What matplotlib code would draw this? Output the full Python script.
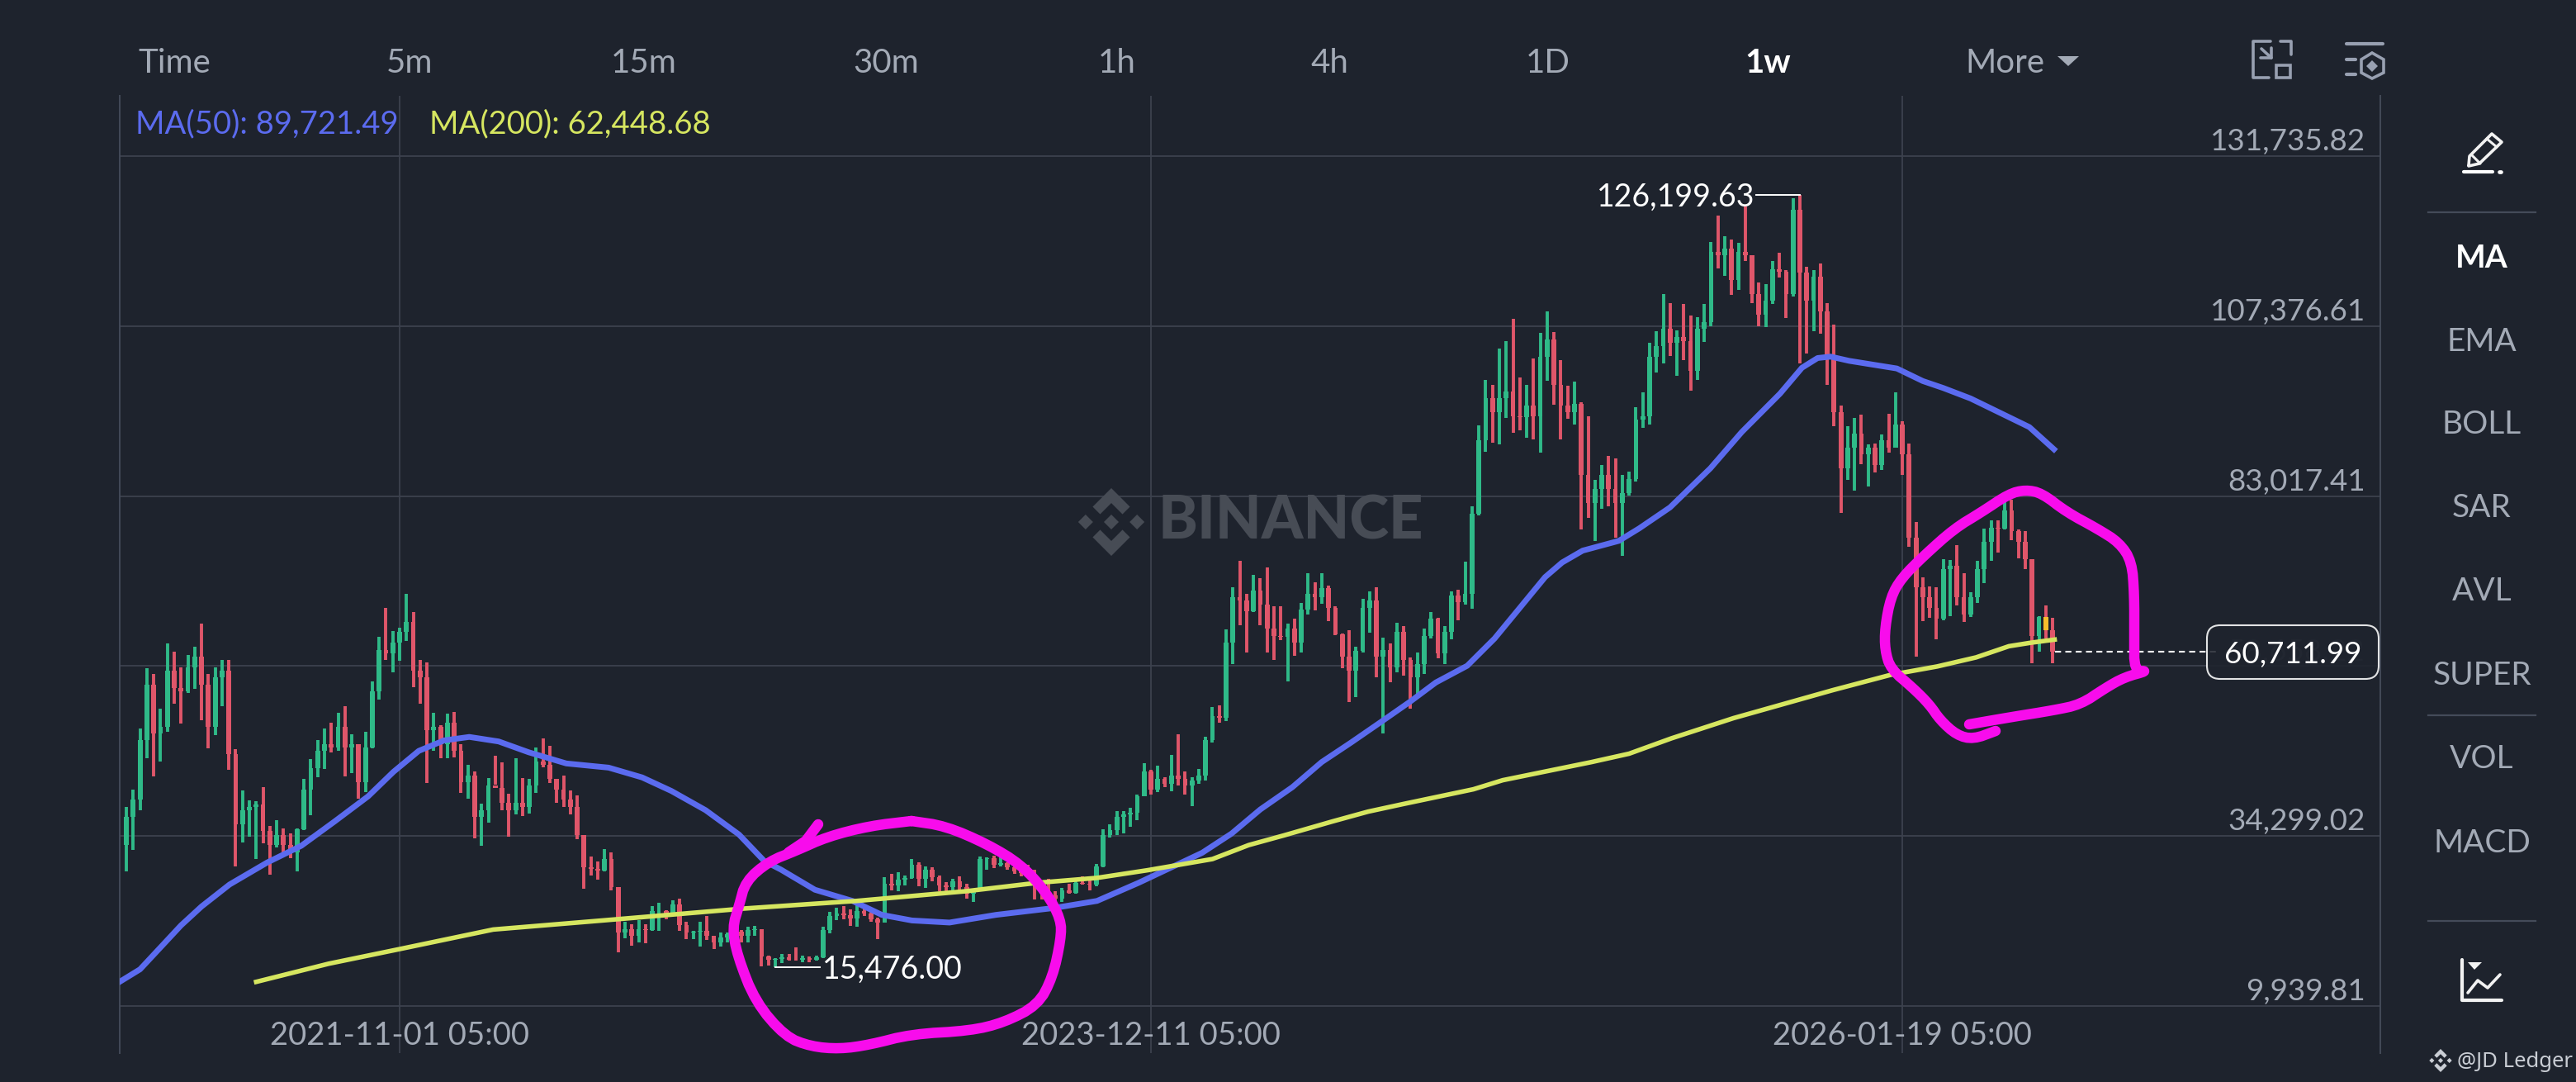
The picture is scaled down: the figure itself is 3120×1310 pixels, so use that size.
import numpy as np
import matplotlib
matplotlib.use("Agg")
import matplotlib.pyplot as plt
from matplotlib.patches import Polygon, FancyBboxPatch, Rectangle
from matplotlib.transforms import blended_transform_factory

plt.rcParams['font.family'] = ['Lato', 'DejaVu Sans']

# colours
BG = '#1E232D'
GRID = '#3C424E'
TXT = '#A3AAB6'
GREEN = '#2FBA88'
RED = '#E0566A'
BLUE = '#5B6BEF'
YELLOW = '#D6E660'
MAGENTA = '#F80CEC'
ORANGE = '#F9BE2C'

# weeks counted from 2021-11-01, prices in thousands
first_week = -40
first_open = 33.0
highs = [
    38.5, 41, 49.7, 58.4, 57.5, 52.6, 61.85, 60.7, 58.5, 60.2,
    61.45, 64.8, 57.5, 58.5, 59.5, 59.5, 46.7, 40.8, 39.45, 39.3,
    41.35, 35.7, 36.6, 35.35, 34.65, 35.35, 42.5, 45.3, 48.1, 49.7,
    50.5, 51.9, 52.9, 48.85, 47.35, 49.2, 56.5, 62.9, 67, 63.7,
    64.2, 68.95, 66.4, 59.5, 59.2, 51.9, 50.2, 51.8, 52.1, 47.5,
    44.5, 43.5, 38.9, 42.65, 45.85, 44.8, 40.35, 45.4, 42.6, 42.45,
    47, 48.25, 47.2, 42.45, 43, 40.8, 40.1, 34.25, 31.35, 30.7,
    32.4, 31.9, 27, 22, 21.6, 22.2, 21.7, 24.3, 24.7, 23.7,
    25.1, 25.3, 22, 20.7, 22, 22.8, 20, 20.5, 20.5, 21,
    20.8, 21.25, 21.45, 21, 17.2, 16.8, 17.4, 17.4, 18.4, 17.2,
    17, 17.2, 21.25, 23.4, 24, 24.3, 23.8, 24.8, 24.2, 23.7,
    22.55, 28.35, 28.85, 29.1, 28.7, 31, 30.5, 30, 29.85, 28.6,
    27.75, 28.2, 28.5, 27.5, 26.8, 31.4, 31.3, 31.5, 31.3, 30.5,
    30.1, 29.7, 30.2, 29.5, 27.2, 28.15, 26.4, 26.85, 27.5, 27.9,
    28.55, 28.3, 30.3, 35.25, 35.95, 37.9, 37.9, 38.4, 40.2, 44.7,
    43.8, 44.4, 42.75, 45.9, 48.9, 43.6, 42.75, 43.9, 48.55, 52.8,
    53, 63.95, 70, 73.75, 68.95, 71.7, 71.3, 72.8, 67.2, 67.25,
    64.7, 65.5, 67.7, 72, 70.7, 72, 70.2, 67.25, 63.35, 63.8,
    61.4, 68.3, 69.4, 70, 62.7, 61.85, 64.9, 64.4, 59.9, 60.6,
    64.05, 66.4, 65.6, 64.4, 69.3, 69.55, 73.6, 81.5, 93.2, 99.6,
    98.9, 104.1, 105.2, 108.4, 100, 99, 102.7, 106.4, 109.5, 106.5,
    102.5, 98.8, 99.45, 96.45, 94.4, 85.3, 87.5, 88.8, 88.45, 86.1,
    86.5, 95.75, 97.9, 105, 106.7, 112, 110.7, 106.8, 110.5, 108.95,
    108.6, 110.5, 119.4, 123.2, 120.2, 119.8, 119.3, 124.5, 117.5, 113.6,
    113.4, 116.65, 117.9, 115.35, 125.7, 126.2, 115.9, 115.45, 116.35, 110.7,
    107.6, 96, 93.05, 94.2, 94.65, 90.4, 90.6, 91.8, 94.75, 97.9,
    93.7, 90.5, 79.3, 71.4, 70.1, 70, 74, 73.9, 76, 72,
    69.2, 73.75, 78.3, 79.5, 79.5, 82.75, 82.55, 78.2, 78, 74,
    65.8, 67.3, 65.6,
]
lows = [
    29.2, 32.3, 38, 45.5, 42.9, 45, 49.2, 53.25, 50.4, 54.75,
    55.4, 50.9, 46.9, 48.75, 52.9, 43.8, 29.9, 33.35, 34.2, 31,
    33.3, 28.75, 32.7, 31.9, 31.1, 29.2, 35.2, 37.3, 42.7, 43.9,
    46.3, 46.5, 42.85, 43.3, 39.6, 40.6, 46.85, 53.85, 59.5, 57.8,
    59.4, 62.25, 55.6, 53.25, 41.95, 46.5, 45.4, 45.5, 45.6, 40.5,
    39.65, 34, 32.9, 36.2, 41.65, 38, 34.25, 37.4, 37.2, 37.5,
    40.45, 44.1, 41.85, 39.1, 38.45, 37.4, 33.8, 26.7, 28.6, 28,
    29.2, 26.5, 17.6, 19.6, 18.6, 19, 18.9, 20.7, 20.7, 22.4,
    23, 20.7, 19.5, 19.5, 18.5, 19.4, 18.1, 18.5, 19, 19,
    19, 19.1, 20, 15.6, 15.75, 15.476, 16.1, 16.5, 16.5, 16.2,
    16.2, 16.5, 16.8, 20.4, 22.2, 22.4, 21.4, 21.3, 22.8, 22,
    19.5, 21.85, 26.55, 26.45, 27.2, 28.15, 27.05, 26.85, 27.85, 26.45,
    26.45, 26.55, 26.55, 25.3, 24.8, 26.8, 29.5, 29.7, 30, 29.5,
    28.9, 28.55, 28.35, 25.2, 25.2, 25.2, 25, 24.8, 26, 26,
    27.35, 26.5, 27.1, 29.85, 34.05, 34.45, 34.7, 35.65, 36.6, 40,
    40.2, 40.6, 41.25, 40.75, 41.55, 40.2, 38.6, 41.75, 42.2, 47.75,
    50.5, 50.8, 59, 64.5, 60.65, 66.4, 64.5, 60.6, 59.55, 62.4,
    56.5, 60.1, 60.65, 66, 66.6, 67.6, 65.1, 63.1, 58.4, 53.5,
    54.25, 60.6, 63.4, 57.1, 49, 56.35, 57.8, 57.25, 52.6, 54.55,
    57.5, 62.6, 59.8, 59, 62.5, 65.2, 67.5, 66.85, 80.2, 89.4,
    90.7, 90.4, 94.2, 92.1, 92.4, 91.4, 91.1, 89.2, 99.5, 96.1,
    91.1, 94.05, 93.3, 78.2, 79.9, 76.55, 81.2, 81.5, 77, 74.5,
    83.1, 85.1, 92.8, 93.3, 100.7, 102, 103.05, 100.3, 102.5, 98.1,
    99.6, 105.1, 107.4, 115.65, 114.6, 111.9, 112.6, 116.7, 110.65, 107.3,
    107.2, 110.6, 114.35, 108.55, 111.6, 102, 103.5, 106.6, 106.3, 98.9,
    93, 80.6, 85.3, 83.8, 87.55, 84.4, 86.4, 86.75, 89.3, 90,
    86.1, 75.7, 59.96, 65.1, 65.6, 62.5, 65.2, 65.8, 67.4, 65,
    65.7, 67.7, 70.6, 73.75, 74.9, 78.2, 76.7, 74.15, 72.5, 59.1,
    60.7, 62.65, 59.1,
]
closes = [
    37, 39.5, 48, 56, 49, 50, 58, 55.5, 55, 58.5,
    60, 56, 50, 57, 58, 46, 36, 38, 38.5, 38.8,
    35, 33, 34.5, 33, 32, 35.3, 41, 44, 46.5, 47.5,
    47, 50, 47, 47.5, 42, 47, 55, 61, 60.5, 62,
    63.5, 65, 58, 57, 49.5, 50, 47.5, 50.5, 46.5, 42,
    43, 37, 38, 41.5, 41.2, 39, 38, 39, 38.5, 41.5,
    45, 44.5, 42.5, 41, 39.5, 38.5, 34.5, 29.8, 29.6, 29.3,
    31, 27, 20.5, 21, 20, 21, 20.8, 23.5, 23.6, 23,
    24.5, 21.5, 20.5, 20.6, 20.7, 20, 19, 19.8, 20.2, 20.6,
    20, 20.8, 21, 17, 16.6, 16.7, 16.9, 16.6, 16.55, 16.8,
    16.6, 16.9, 20.8, 22.8, 23.2, 23, 22.5, 23.6, 23.2, 22.4,
    21.9, 27.5, 27.2, 28, 28.3, 30.2, 28.2, 29.5, 28.4, 27.2,
    27, 27.8, 27, 26, 26.7, 31, 31.1, 30.2, 30.45, 29.8,
    29.2, 29, 28.8, 27, 26, 25.8, 25.3, 26.5, 26.2, 27.6,
    27.5, 27.3, 30, 34.5, 35.2, 37, 37.4, 37.6, 40, 43.5,
    41, 42.5, 41.8, 43, 42.5, 41.5, 42.2, 43, 48, 51.5,
    51.2, 62, 68.5, 68, 66.5, 69.5, 67.5, 64, 63, 62.8,
    64, 62, 66.8, 69, 68.5, 69.8, 67, 63.2, 60, 58,
    60.8, 67, 68, 60, 61, 58.5, 63.5, 59.5, 57, 59,
    63, 65.5, 60.5, 63.5, 68.8, 67.8, 69, 80.5, 91, 97,
    95, 97, 98, 94.5, 94.3, 96, 94.5, 103, 105.5, 99,
    96, 95, 96.2, 86, 82, 84, 86, 84, 82, 83.5,
    85.5, 94, 94.5, 103, 104.5, 107, 105, 105.8, 105.2, 101,
    107, 108, 118, 117.5, 118.5, 114, 118, 117.5, 112, 109,
    111, 115.5, 115.2, 112, 124, 115, 111, 114.5, 109.5, 103,
    95, 87, 90, 92, 89, 90, 87.5, 91, 90, 93.3,
    89, 77, 70, 68.5, 67, 65.5, 72.5, 73, 68.5, 66,
    68.5, 72.5, 76.5, 78.5, 78.3, 81, 78, 76.5, 74, 63,
    65.7, 63.8, 60.71199,
]
highlight_week = 241

ma50_weeks = [-41, -38, -32, -29, -24.9, -19.4, -14.4, -9.5, -4.6, -0.9, 2.8, 6.5, 10.2, 14.5, 18.9, 24.4,
              30.6, 35.5, 39.8, 44.8, 49.7, 53.4, 55.8, 60.8, 66.3, 70.6, 75, 80.5, 87.3, 95.9, 102.1, 108.2,
              113.4, 117.5, 121.8, 126, 130.7, 135, 139.3, 143.6, 148, 151.7, 156.3, 160.3, 164, 167.7, 170.2,
              173.2, 178.5, 181.5, 186, 191.9, 196.5, 202.1, 205.3, 207.6, 209.5, 212.2, 219.2, 223, 226, 230,
              238.6, 242.2]
ma50_values = [13.4, 15.2, 21.5, 24.2, 27.35, 30.5, 32.9, 36.4, 40, 43.5, 46.5, 48, 48.5, 47.85, 46.3, 44.7,
               44.1, 42.7, 40.75, 38, 34.5, 30.7, 29.5, 26.6, 25, 23, 22.2, 21.9, 23, 24, 25, 27.6,
               30, 31.9, 34.65, 38.1, 41.3, 44.9, 47.7, 50.6, 53.6, 56.3, 58.7, 62.6, 67, 71.4, 73.5,
               75.2, 76.6, 78.4, 81.4, 87, 92.2, 97.7, 101.4, 102.8, 103, 102.4, 101.3, 99.5, 98.5, 97,
               92.9, 89.72]
ma200_weeks = [-21, -10.4, 0, 13.7, 29.7, 50.3, 60.8, 66.9, 83, 93.4, 102.1, 109.5, 119, 124.3, 129.5, 136.6,
               141.8, 147, 157.2, 161.5, 174.5, 180, 186.2, 195.3, 209.8, 218.3, 225.1, 230.8, 235.6, 238.8, 242.3]
ma200_values = [13.4, 16, 18.1, 20.9, 22.2, 23.9, 24.6, 25, 26.4, 27.6, 28.3, 29.4, 31, 33, 34.4, 36.4,
                37.8, 38.9, 41, 42.3, 44.9, 46.1, 48.3, 51.2, 55.2, 57.4, 58.6, 59.9, 61.5, 62, 62.45]

price_levels = [131735.82, 107376.61, 83017.41, 58658.22, 34299.02, 9939.81]
price_labels = ['131,735.82', '107,376.61', '83,017.41', '58,658.22', '34,299.02', '9,939.81']
date_weeks = [0, 110, 220]
date_labels = ['2021-11-01 05:00', '2023-12-11 05:00', '2026-01-19 05:00']
last_price = 60711.99
top_price = 126199.63
top_week = 205
bottom_price = 15476.00
bottom_week = 55

tabs = ['Time', '5m', '15m', '30m', '1h', '4h', '1D', '1w', 'More']
tab_x = [211, 496, 780, 1073, 1353, 1610, 1875, 2141, 2428]
side_items = ['MA', 'EMA', 'BOLL', 'SAR', 'AVL', 'SUPER', 'VOL', 'MACD']
side_y = [312, 414, 514, 615, 716, 818, 919, 1021]

# hand drawn circles, in picture pixels
left_loop = [(1104, 994), (1053, 1000), (1002, 1013), (964, 1030), (931, 1043), (903, 1067), (895, 1097),
             (887, 1123), (893, 1157), (915, 1213), (951, 1255), (982, 1267), (1017, 1270), (1053, 1265),
             (1104, 1252), (1175, 1248), (1216, 1238), (1257, 1217), (1275, 1183), (1285, 1137), (1285, 1113),
             (1267, 1080), (1237, 1047), (1196, 1022), (1145, 1000), (1104, 994)]
left_tip = [(991, 998), (976, 1018), (955, 1032)]
right_loop = [(2417, 885), (2390, 895), (2370, 890), (2350, 872), (2337, 853), (2317, 833), (2290, 810),
              (2283, 787), (2283, 760), (2290, 723), (2303, 700), (2330, 673), (2367, 640), (2400, 620),
              (2433, 598), (2453, 593), (2473, 597), (2503, 620), (2540, 640), (2567, 657), (2582, 680),
              (2585, 720), (2585, 770), (2585, 813), (2602, 812), (2573, 820), (2550, 833), (2520, 853),
              (2487, 860), (2437, 868), (2385, 877)]

highs = np.array(highs) * 1000
lows = np.array(lows) * 1000
closes = np.array(closes) * 1000
opens = np.r_[first_open * 1000, closes[:-1]]
weeks = np.arange(first_week, first_week + len(closes))

fig = plt.figure(figsize=(31.2, 13.1), dpi=100, facecolor=BG)

# price chart
ax = fig.add_axes([145 / 3120, 1 - 1275 / 1310, (2883 - 145) / 3120, (1275 - 116) / 1310], facecolor=BG)
ax.set_xlim(-40.98, 289.98)
ax.set_ylim(3193, 140376)
ax.set_yticks(price_levels)
ax.set_xticks(date_weeks)
ax.tick_params(length=0, labelleft=False, labelbottom=False)
ax.grid(True, color=GRID, lw=1.3)
ax.set_axisbelow(True)
for side in ['top', 'bottom']:
    ax.spines[side].set_visible(False)
for side in ['left', 'right']:
    ax.spines[side].set_color('#434A58')
    ax.spines[side].set_linewidth(1.4)

colors = [GREEN if c >= o else RED for o, c in zip(opens, closes)]
body_colors = [ORANGE if w == highlight_week else col for w, col in zip(weeks, colors)]
ax.vlines(weeks, lows, highs, colors=colors, lw=2.8, zorder=3)
ax.bar(weeks, np.abs(closes - opens), bottom=np.minimum(opens, closes), width=0.7, color=body_colors, zorder=3)

ax.plot(ma50_weeks, np.array(ma50_values) * 1000, color=BLUE, lw=5, zorder=4, solid_joinstyle='round')
ax.plot(ma200_weeks, np.array(ma200_values) * 1000, color=YELLOW, lw=4, zorder=4, solid_joinstyle='round')

# last price line
ax.plot([weeks[-1] + 0.4, 266.5], [last_price, last_price], color='white', lw=1.5, ls=(0, (3.5, 2.5)), zorder=4)

# high and low marks
ax.plot([top_week, top_week - 6.4], [top_price, top_price], color='white', lw=1.4, zorder=5)
ax.text(top_week - 6.6, top_price - 350, f'{top_price:,.2f}', color='white', fontsize=27, ha='right', va='center', zorder=6)
ax.plot([bottom_week, bottom_week + 6.5], [bottom_price, bottom_price], color='white', lw=1.4, zorder=5)
ax.text(bottom_week + 6.9, bottom_price - 350, f'{bottom_price:,.2f}', color='white', fontsize=27, ha='left', va='center', zorder=6)

# axis labels sit inside the plot
right_t = blended_transform_factory(ax.transAxes, ax.transData)
for lev, lab in zip(price_levels, price_labels):
    col = '#3F4652' if lev == 58658.22 else TXT
    ax.text(0.9934, lev + 100, lab, color=col, fontsize=26.6, ha='right', va='bottom', transform=right_t, zorder=2)
bottom_t = blended_transform_factory(ax.transData, ax.transAxes)
for w, lab in zip(date_weeks, date_labels):
    ax.text(w, 0.0185, lab, color=TXT, fontsize=27.5, ha='center', va='center', transform=bottom_t)

# everything else is placed in picture pixels
ov = fig.add_axes([0, 0, 1, 1], facecolor='none')
ov.set_xlim(0, 3120)
ov.set_ylim(1310, 0)
ov.axis('off')


def binance_logo(cx, cy, r, color, alpha=1.0):
    shapes = [
        [(0, -1), (.55, -.45), (.33, -.23), (0, -.56), (-.33, -.23), (-.55, -.45)],
        [(0, 1), (.55, .45), (.33, .23), (0, .56), (-.33, .23), (-.55, .45)],
        [(0, -.22), (.22, 0), (0, .22), (-.22, 0)],
        [(-.76, -.22), (-.54, 0), (-.76, .22), (-.98, 0)],
        [(.76, -.22), (.98, 0), (.76, .22), (.54, 0)],
    ]
    for s in shapes:
        pts = [(cx + x * r, cy + y * r) for x, y in s]
        ov.add_patch(Polygon(pts, closed=True, fc=color, ec='none', alpha=alpha))


def stroke(points, color, lw, **kw):
    xs, ys = zip(*points)
    ov.plot(xs, ys, color=color, lw=lw, solid_capstyle='round', solid_joinstyle='round', **kw)


def rounded(points, passes=2):
    # corner cutting, so the pen strokes do not look like polygons
    pts = np.array(points, dtype=float)
    for _ in range(passes):
        a, b = pts[:-1], pts[1:]
        mid = np.empty((2 * len(a), 2))
        mid[0::2] = 0.75 * a + 0.25 * b
        mid[1::2] = 0.25 * a + 0.75 * b
        pts = np.vstack([pts[0], mid, pts[-1]])
    return pts


# watermark
binance_logo(1346, 632, 41, '#474C55')
ov.text(1403, 632, 'BINANCE', color='#474C55', fontsize=52, fontweight='black', ha='left', va='center')

# top tabs
for t, x in zip(tabs, tab_x):
    active = t == '1w'
    ov.text(x, 76, t, color='white' if active else TXT, fontsize=29, fontweight='bold' if active else 'normal',
            ha='center', va='center')
ov.add_patch(Polygon([(2492, 68), (2518, 68), (2505, 80)], closed=True, fc=TXT, ec='none'))

# legend
ov.text(164, 150, 'MA(50): 89,721.49', color=BLUE, fontsize=27.5, ha='left', va='center')
ov.text(520, 150, 'MA(200): 62,448.68', color=YELLOW, fontsize=27.5, ha='left', va='center')

# current price tag
ov.add_patch(FancyBboxPatch((2683, 767), 188, 45, boxstyle='round,pad=10,rounding_size=16', fc=BG, ec='white',
                            lw=1.5, alpha=0.88, zorder=5))
ov.text(2777, 792, f'{last_price:,.2f}', color='white', fontsize=26.5, ha='center', va='center', zorder=6)

# side menu
for t, y in zip(side_items, side_y):
    active = t == 'MA'
    ov.text(3006, y, t, color='white' if active else TXT, fontsize=28, fontweight='bold' if active else 'normal',
            ha='center', va='center')
for y in [257, 866, 1115]:
    ov.plot([2941, 3071], [y, y], color='#444B59', lw=1.6)

# icons
ICON = '#98A0B1'
stroke([(2750, 50), (2729, 50), (2729, 94), (2748, 94)], ICON, 2.6)
stroke([(2762, 50), (2775, 50), (2775, 66)], ICON, 2.6)
ov.add_patch(Rectangle((2757, 79), 17, 15, fc='none', ec=ICON, lw=2.6))
stroke([(2739, 59), (2751, 70)], ICON, 2.6)
stroke([(2738, 70), (2751, 70), (2751, 58)], ICON, 2.6)
stroke([(2842, 53), (2886, 53)], ICON, 3)
stroke([(2842, 72), (2853, 72)], ICON, 3)
stroke([(2842, 90), (2853, 90)], ICON, 3)
hexagon = [(2873, 64), (2887, 72), (2887, 88), (2873, 95), (2860, 88), (2860, 72)]
ov.add_patch(Polygon(hexagon, closed=True, fc='none', ec=ICON, lw=2.6))
ov.add_patch(Polygon([(2873, 73), (2880, 80), (2873, 87), (2866, 80)], closed=True, fc=ICON, ec='none'))

stroke([(2984, 208), (3019, 208)], 'white', 3)
stroke([(3027, 208), (3029, 208)], 'white', 3.4)
stroke([(2990, 200), (2991, 189), (3018, 162), (3030, 172), (3003, 198), (2990, 201)], '#F2F2F2', 2.6)
stroke([(2994, 188), (3004, 198)], '#F2F2F2', 2.2)
stroke([(3012, 168), (3024, 178)], '#F2F2F2', 2.2)

stroke([(2982, 1162), (2982, 1211), (3030, 1211)], '#F2F2F2', 3)
ov.add_patch(Polygon([(2989, 1165), (3006, 1165), (2997, 1174)], closed=True, fc='#F2F2F2', ec='none'))
stroke([(2989, 1202), (3001, 1187), (3013, 1196), (3028, 1180)], '#F2F2F2', 2.6)

# watermark corner
binance_logo(2956, 1284, 14, '#C9CDD4')
ov.text(2976, 1285, '@JD Ledger', color='#C9CDD4', fontsize=18.5, family=['Noto Sans', 'DejaVu Sans'],
        ha='left', va='center')

# hand drawn marks
stroke(rounded(left_loop), MAGENTA, 9, zorder=7)
stroke(left_tip, MAGENTA, 9, zorder=7)
stroke(rounded(right_loop), MAGENTA, 9, zorder=7)

fig.savefig('out.png', dpi=100, facecolor=BG)
